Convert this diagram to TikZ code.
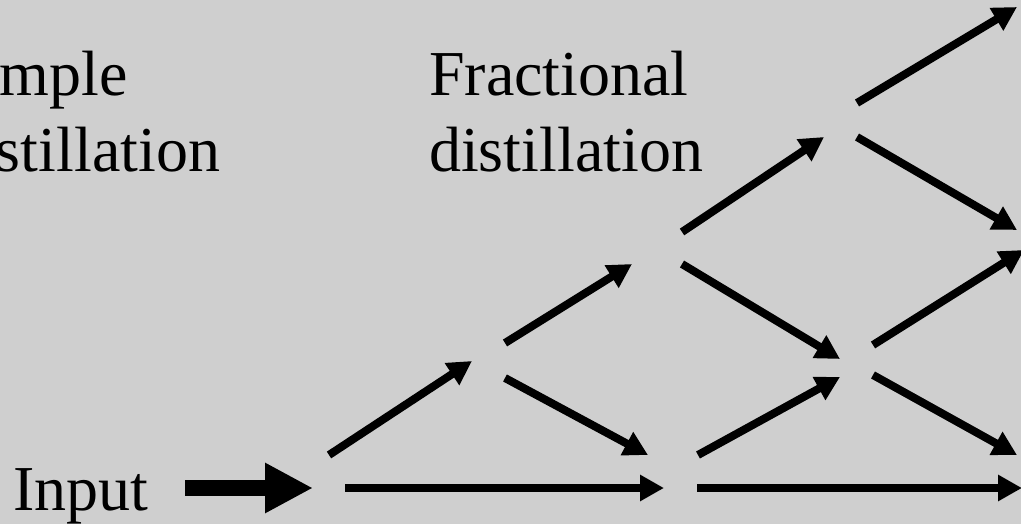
\documentclass[tikz,border=0pt]{standalone}
\usepackage{fontspec}
\setmainfont{Liberation Serif}
\usetikzlibrary{arrows.meta}
\definecolor{bggray}{RGB}{207,207,207}

\tikzset{
  flow/.style={line width=8pt, -{Triangle[length=24pt,width=25pt]}},
  feed/.style={line width=16pt, -{Triangle[length=48pt,width=47pt]}},
  caption/.style={font=\fontsize{64}{77}\selectfont, inner sep=0pt, align=left, anchor=base west}
}

\begin{document}
\begin{tikzpicture}[x=1pt, y=-1pt]
% Background and frame
\fill[bggray] (0,0) rectangle (1021,524);
\useasboundingbox (0,0) rectangle (1021,524);

% Labels (base anchor sits on the last line)
\node[caption] (simple) at (-54,172) {Simple\\distillation};
\node[caption] (fract) at (429,172) {Fractional\\distillation};
\node[caption] (input) at (13,510) {Input};

% End points of the stages
\coordinate (feedS) at (185,488);
\coordinate (feedE) at (313,488);
\coordinate (n0up) at (329,455);
\coordinate (n0h) at (345,488);
\coordinate (aIn) at (472,361);
\coordinate (aUp) at (505,343);
\coordinate (aDn) at (505,378);
\coordinate (bIn1) at (648,455);
\coordinate (bIn2) at (664,488);
\coordinate (bUp) at (698,455);
\coordinate (bH) at (697,488);
\coordinate (cIn) at (632,264);
\coordinate (cUp) at (682,232);
\coordinate (cDn) at (682,264);
\coordinate (dIn1) at (840,359);
\coordinate (dIn2) at (840,377);
\coordinate (dUp) at (873,345);
\coordinate (dDn) at (873,375);
\coordinate (eIn) at (824,137);
\coordinate (eUp) at (857,103);
\coordinate (eDn) at (857,137);
\coordinate (out1) at (1017,7);
\coordinate (out2) at (1017,230);
\coordinate (out3) at (1024,250);
\coordinate (out4) at (1017,455);
\coordinate (out5) at (1022,488);

% Input arrow
\draw[feed] (feedS) -- (feedE);

% Stage arrows
\draw[flow] (n0up) -- (aIn);
\draw[flow] (n0h) -- (bIn2);
\draw[flow] (aUp) -- (cIn);
\draw[flow] (aDn) -- (bIn1);
\draw[flow] (bUp) -- (dIn2);
\draw[flow] (bH) -- (out5);
\draw[flow] (cUp) -- (eIn);
\draw[flow] (cDn) -- (dIn1);
\draw[flow] (dUp) -- (out3);
\draw[flow] (dDn) -- (out4);
\draw[flow] (eUp) -- (out1);
\draw[flow] (eDn) -- (out2);
\end{tikzpicture}
\end{document}
